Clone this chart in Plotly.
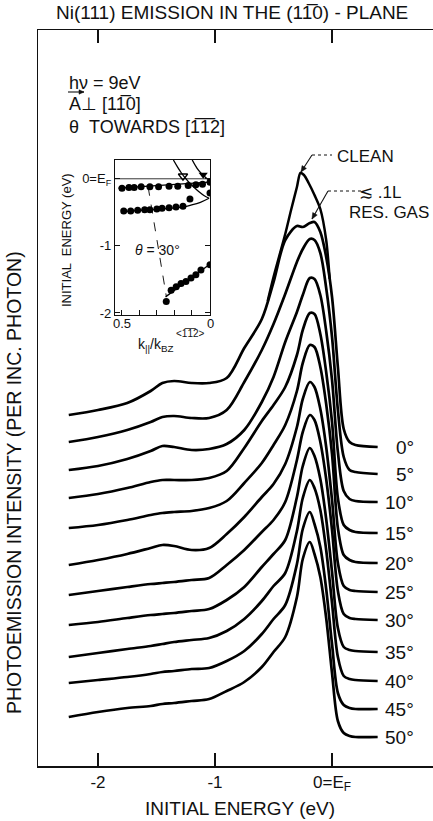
import math
import plotly.graph_objects as go

# ---------------- main panel data ----------------
energy = [-2.25, -2.0, -1.75, -1.55, -1.45, -1.35, -1.2, -1.05, -0.9, -0.75, -0.6, -0.5,
          -0.4, -0.3, -0.25, -0.19, -0.15, -0.1, -0.05, 0.0, 0.05, 0.1, 0.15, 0.2, 0.39]

angle_labels = ["0°", "5°", "10°", "15°", "20°", "25°", "30°", "35°", "40°", "45°", "50°"]
offsets = [319, 292, 264, 233, 203, 174, 146, 114, 85, 57, 29]

int_00 = [32, 37, 44, 56, 64, 66, 64, 64, 69, 99, 128, 165, 207, 221, 220, 224, 225, 215, 190, 150, 80, 18, 5, 2, 0]
int_05 = [32, 37, 44, 52, 57, 58, 56, 56, 64, 92, 124, 150, 180, 212, 225, 235, 234, 221, 186, 137, 64, 17, 4, 2, 0]
int_10 = [32, 36, 43, 51, 56, 55, 52, 53, 58, 72, 100, 125, 160, 190, 207, 224, 223, 207, 171, 122, 50, 11, 3, 1, 0]
int_15 = [35, 39, 45, 51, 53, 53, 53, 55, 62, 85, 112, 128, 146, 178, 203, 220, 219, 199, 161, 111, 35, 8, 3, 1, 0]
int_20 = [35, 38, 43, 48, 50, 51, 52, 55, 62, 80, 100, 118, 138, 172, 200, 218, 216, 196, 159, 109, 35, 8, 3, 1, 0]
int_25 = [27, 32, 38, 44, 47, 46, 42, 44, 58, 75, 95, 108, 128, 165, 193, 210, 205, 183, 145, 92, 29, 6, 2, 1, 0]
int_30 = [25, 29, 33, 36, 37, 38, 40, 42, 55, 70, 88, 100, 118, 160, 188, 205, 200, 178, 141, 90, 29, 6, 2, 1, 0]
int_35 = [27, 30, 34, 37, 38, 39, 41, 43, 52, 65, 85, 98, 112, 155, 186, 204, 196, 173, 133, 80, 24, 5, 2, 1, 0]
int_40 = [24, 28, 32, 35, 37, 39, 41, 43, 50, 62, 80, 95, 108, 150, 183, 201, 193, 171, 131, 78, 24, 5, 2, 1, 0]
int_45 = [26, 29, 32, 35, 37, 38, 40, 41, 48, 58, 75, 90, 104, 145, 180, 197, 185, 162, 120, 65, 16, 4, 1, 0, 0]
int_50 = [20, 25, 29, 31, 33, 34, 36, 38, 46, 55, 70, 85, 100, 140, 178, 195, 183, 160, 119, 64, 16, 4, 1, 0, 0]
spectra = [int_00, int_05, int_10, int_15, int_20, int_25, int_30, int_35, int_40, int_45, int_50]

# clean-surface spectrum (0°), drawn only where it departs from the contaminated one
clean_energy = [-0.55, -0.5, -0.4, -0.35, -0.3, -0.27, -0.24, -0.2, -0.15, -0.1, -0.05, -0.02]
clean_int = [146, 170, 213, 237, 260, 274, 272, 264, 252, 238, 207, 168]

# ---------------- inset data (k_par / k_BZ, initial energy eV) ----------------
band1_k = [0.50, 0.46, 0.43, 0.39, 0.34, 0.29, 0.23, 0.18, 0.12, 0.076, 0.038, -0.005]
band1_e = [-0.14, -0.13, -0.13, -0.12, -0.12, -0.12, -0.11, -0.11, -0.10, -0.09, -0.08, -0.05]
band1_line_k = [0.52, 0.0]
band1_line_e = [-0.14, -0.05]

band2_k = [0.49, 0.45, 0.41, 0.37, 0.34, 0.30, 0.27, 0.23, 0.19, 0.15, 0.11, -0.005]
band2_e = [-0.48, -0.48, -0.47, -0.46, -0.46, -0.45, -0.44, -0.43, -0.42, -0.41, -0.30, -0.21]
band2_line_k = [0.50, 0.15, 0.10, 0.05, 0.0]
band2_line_e = [-0.49, -0.42, -0.39, -0.35, -0.29]

band3_k = [0.246, 0.218, 0.189, 0.161, 0.133, 0.104, 0.076, 0.047, -0.005]
band3_e = [-1.83, -1.66, -1.61, -1.56, -1.53, -1.48, -1.43, -1.36, -1.28]
band3_line_k = [0.25, 0.0]
band3_line_e = [-1.76, -1.28]

final_a_k = [0.205, 0.18, 0.16, 0.14, 0.12, 0.09, 0.06, 0.03, 0.0]
final_a_e = [0.28, 0.17, 0.09, 0.02, -0.04, -0.12, -0.19, -0.25, -0.29]
final_b_k = [0.097, 0.07, 0.045, 0.02, 0.0]
final_b_e = [0.28, 0.16, 0.08, 0.02, -0.02]

theta30_k = [0.35, 0.245]
theta30_e = [-0.12, -1.76]

open_tri_k, open_tri_e = [0.15], [0.04]
full_tri_k, full_tri_e = [0.034], [0.06]

# ---------------- geometry helpers (pixel -> paper) ----------------
W, H = 433, 821
ML, MR, MT, MB = 38, 0, 30, 55
PW, PH = W - ML - MR, H - MT - MB


def px(x):
    return (x - ML) / PW


def py(y):
    return (H - MB - y) / PH


FONT = "Liberation Sans, Arial, sans-serif"
INK = "#111111"

fig = go.Figure()

for off, vals in zip(offsets, spectra):
    fig.add_trace(go.Scatter(x=energy, y=[off + v for v in vals], mode="lines",
                             line=dict(color="black", width=2.7, shape="spline", smoothing=0.9),
                             hoverinfo="skip", showlegend=False))

fig.add_trace(go.Scatter(x=clean_energy, y=[offsets[0] + v for v in clean_int], mode="lines",
                         line=dict(color="black", width=2.5, shape="spline", smoothing=0.8),
                         hoverinfo="skip", showlegend=False))


# inset traces
def inset_line(k, e, width=1.3, dash=None):
    fig.add_trace(go.Scatter(x=k, y=e, mode="lines", xaxis="x2", yaxis="y2",
                             line=dict(color="black", width=width, dash=dash, shape="spline"),
                             hoverinfo="skip", showlegend=False))


inset_line([0.54, -0.005], [0, 0], width=0.8)
inset_line(band1_line_k, band1_line_e)
inset_line(band2_line_k, band2_line_e)
inset_line(band3_line_k, band3_line_e)
inset_line(final_a_k, final_a_e)
inset_line(final_b_k, final_b_e)
inset_line(theta30_k, theta30_e, width=0.9, dash="dash")

for k, e in ((band1_k, band1_e), (band2_k, band2_e), (band3_k, band3_e)):
    fig.add_trace(go.Scatter(x=k, y=e, mode="markers", xaxis="x2", yaxis="y2",
                             marker=dict(color="black", size=7), hoverinfo="skip", showlegend=False))

fig.add_trace(go.Scatter(x=open_tri_k, y=open_tri_e, mode="markers", xaxis="x2", yaxis="y2",
                         marker=dict(symbol="triangle-down-open", color="black", size=8,
                                     line=dict(width=1.5)),
                         hoverinfo="skip", showlegend=False))
fig.add_trace(go.Scatter(x=full_tri_k, y=full_tri_e, mode="markers", xaxis="x2", yaxis="y2",
                         marker=dict(symbol="triangle-down", color="black", size=8),
                         hoverinfo="skip", showlegend=False))

annotations = []
shapes = []


def text(x, y, s, size, xanchor="center", angle=0):
    annotations.append(dict(x=px(x), y=py(y), xref="paper", yref="paper", text=s, showarrow=False,
                            xanchor=xanchor, yanchor="middle", textangle=angle,
                            font=dict(family=FONT, size=size, color=INK)))


OV = "\u0305"
text(232, 13, "Ni(111) EMISSION IN THE (11" + OV + "0) - PLANE", 19)
text(14, 483, "PHOTOEMISSION INTENSITY (PER INC. PHOTON)", 19.5, angle=-90)
text(240, 808, "INITIAL ENERGY (eV)", 19)
text(67, 83, "hν = 9eV", 18, xanchor="left")
text(67, 104, "A⊥ [11" + OV + "0]", 18, xanchor="left")
text(67, 127, "θ  TOWARDS [1" + OV + "1" + OV + "2]", 18, xanchor="left")
text(157, 250, "<i>θ</i> = 30°", 14)
text(66, 240, "INITIAL  ENERGY (eV)", 13, angle=-90)
text(156, 345, "k<sub>||</sub>/k<sub>BZ</sub>", 14)
text(190, 334, "&lt;1" + OV + "1" + OV + "2&gt;", 10)
text(122, 323, "0.5", 13)
text(210, 323, "0", 13)
text(365, 157, "CLEAN", 17)
text(380, 193, "≲ .1L", 17)
text(389, 213, "RES. GAS", 17)

# angle labels at each tail
for off, lab in zip(offsets, angle_labels):
    annotations.append(dict(x=0.72, y=off, xref="x", yref="y", text=lab, showarrow=False,
                            xanchor="right", yanchor="middle",
                            font=dict(family=FONT, size=19, color=INK)))


# leader lines with arrowheads, drawn as shapes
def seg(x0, y0, x1, y1, dash=None, width=1.1):
    shapes.append(dict(type="line", xref="paper", yref="paper", x0=px(x0), y0=py(y0),
                       x1=px(x1), y1=py(y1), line=dict(color=INK, width=width, dash=dash)))


def arrow(tx, ty, hx, hy, L=6.0, Wd=2.6):
    seg(tx, ty, hx, hy)
    d = math.hypot(hx - tx, hy - ty)
    ux, uy = (hx - tx) / d, (hy - ty) / d
    bx, by = hx - ux * L, hy - uy * L
    p1 = (bx - uy * Wd, by + ux * Wd)
    p2 = (bx + uy * Wd, by - ux * Wd)
    path = "M {} {} L {} {} L {} {} Z".format(px(hx), py(hy), px(p1[0]), py(p1[1]), px(p2[0]), py(p2[1]))
    shapes.append(dict(type="path", xref="paper", yref="paper", path=path,
                       fillcolor=INK, line=dict(color=INK, width=0.5)))


seg(312, 155, 332, 155, dash="dot", width=1)
arrow(312, 155, 301, 172)
seg(328, 191, 361, 191, dash="dot", width=1)
arrow(328, 191, 312, 219)
arrow(68, 92, 84, 92, L=5, Wd=2.2)

fig.update_layout(
    width=W, height=H, margin=dict(l=ML, r=MR, t=MT, b=MB),
    paper_bgcolor="white", plot_bgcolor="white", showlegend=False,
    font=dict(family=FONT, color=INK),
    annotations=annotations, shapes=shapes,
    xaxis=dict(range=[-2.513, 0.863], showline=True, linecolor=INK, linewidth=1.5, mirror="ticks",
               ticks="inside", ticklen=13, tickwidth=1.5, tickcolor=INK,
               tickvals=[-2, -1, 0], ticktext=["-2", "-1", "0=E<sub>F</sub>"],
               tickfont=dict(family=FONT, size=17, color=INK), showgrid=False, zeroline=False),
    yaxis=dict(range=[0, 736], showline=True, linecolor=INK, linewidth=1.5, mirror=False,
               showticklabels=False, ticks="", showgrid=False, zeroline=False),
    xaxis2=dict(domain=[px(115), px(210)], anchor="y2", range=[0.54, -0.005],
                showline=True, linecolor=INK, linewidth=1.2, mirror=True,
                ticks="inside", ticklen=5, tickcolor=INK, tickvals=[0.5, 0.4, 0.3, 0.2, 0.1, 0.0],
                showticklabels=False, showgrid=False, zeroline=False),
    yaxis2=dict(domain=[py(315), py(160)], anchor="x2", range=[-2.03, 0.28],
                showline=True, linecolor=INK, linewidth=1.2, mirror="ticks",
                ticks="inside", ticklen=5, tickcolor=INK, tickvals=[0, -1, -2],
                ticktext=["0=E<sub>F</sub>", "-1", "-2"],
                tickfont=dict(family=FONT, size=13, color=INK), showgrid=False, zeroline=False),
)

fig.write_html("out.html", config={"displayModeBar": False, "staticPlot": True},
               post_script="document.body.style.margin='0px';document.body.style.overflow='hidden';")
